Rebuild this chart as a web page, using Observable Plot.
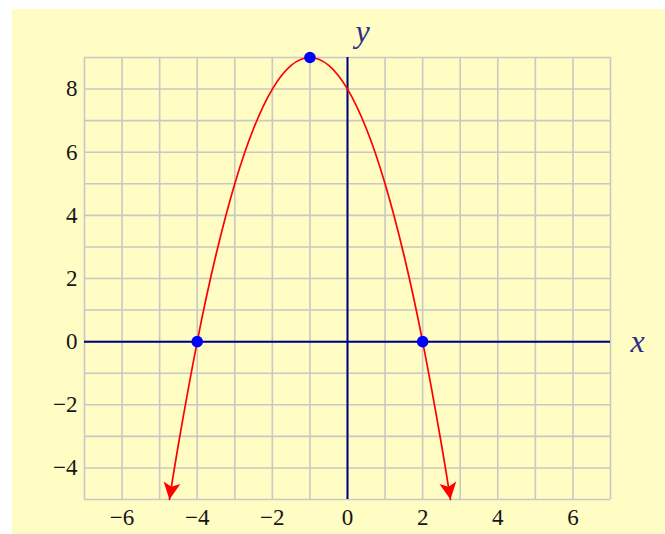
<!DOCTYPE html>
<html>
<head>
<meta charset="utf-8">
<script src="https://cdn.jsdelivr.net/npm/d3@7"></script>
<script src="https://cdn.jsdelivr.net/npm/@observablehq/plot@0.6"></script>
<style>
  html, body { margin: 0; padding: 0; background: #ffffff; }
  #chart { position: absolute; left: 12px; top: 9px; }
</style>
</head>
<body>
<div id="chart"></div>
<script>
// Points along the parabola, from the left arrow tip to the right arrow tip
const curveX = [-4.74, -4.5, -4, -3.5, -3, -2.5, -2, -1.5, -1, -0.5, 0, 0.5, 1, 1.5, 2, 2.5, 2.74];
const curveY = [-5, -3.25, 0, 2.75, 5, 6.75, 8, 8.75, 9, 8.75, 8, 6.75, 5, 2.75, 0, -3.25, -5];

// Vertex and x-intercepts
const pointX = [-1, -4, 2];
const pointY = [9, 0, 0];

// Tick labels and grid lines
const xTicks = [-6, -4, -2, 0, 2, 4, 6];
const yTicks = [-4, -2, 0, 2, 4, 6, 8];
const gridX = [-7, -6, -5, -4, -3, -2, -1, 0, 1, 2, 3, 4, 5, 6, 7];
const gridY = [-5, -4, -3, -2, -1, 0, 1, 2, 3, 4, 5, 6, 7, 8, 9];

const curve = curveX.map((x, i) => ({x, y: curveY[i]}));
const points = pointX.map((x, i) => ({x, y: pointY[i]}));

// Filled, slightly notched arrowhead for both ends of the curve
function arrowHead(color, context) {
  const doc = (context && context.document) || document;
  const ns = "http://www.w3.org/2000/svg";
  const marker = doc.createElementNS(ns, "marker");
  marker.setAttribute("viewBox", "-20 -10 21 20");
  marker.setAttribute("markerWidth", "21");
  marker.setAttribute("markerHeight", "20");
  marker.setAttribute("markerUnits", "userSpaceOnUse");
  marker.setAttribute("refX", "0");
  marker.setAttribute("refY", "0");
  marker.setAttribute("orient", "auto-start-reverse");
  const path = doc.createElementNS(ns, "path");
  path.setAttribute("d", "M0,0L-17,-8.5L-13,0L-17,8.5Z");
  path.setAttribute("fill", color);
  path.setAttribute("stroke", "none");
  marker.appendChild(path);
  return marker;
}

const serif = "Liberation Serif";
const gridColor = "#c8c8c4";
const axisColor = "#000080";
const titleColor = "#2e2e86";
const labelColor = "#161616";

const chart = Plot.plot({
  width: 653,
  height: 525,
  marginLeft: 72,
  marginRight: 55,
  marginTop: 48,
  marginBottom: 35,
  style: {background: "#fffcc4", overflow: "visible"},
  x: {domain: [-7, 7]},
  y: {domain: [-5, 9]},
  marks: [
    Plot.ruleX(gridX, {stroke: gridColor, strokeWidth: 1.6}),
    Plot.ruleY(gridY, {stroke: gridColor, strokeWidth: 1.6}),
    Plot.ruleY([0], {stroke: axisColor, strokeWidth: 2}),
    Plot.ruleX([0], {stroke: axisColor, strokeWidth: 2}),
    Plot.axisX(xTicks, {
      tickSize: 0, tickPadding: 9, label: null,
      fontSize: 23, fontFamily: serif, fill: labelColor,
      stroke: labelColor, strokeWidth: 0.4
    }),
    Plot.axisY(yTicks, {
      tickSize: 0, tickPadding: 7, label: null,
      fontSize: 23, fontFamily: serif, fill: labelColor,
      stroke: labelColor, strokeWidth: 0.4
    }),
    Plot.line(curve, {
      x: "x", y: "y",
      stroke: "#ff0000", strokeWidth: 1.7,
      curve: "natural",
      markerStart: arrowHead, markerEnd: arrowHead
    }),
    Plot.dot(points, {x: "x", y: "y", r: 5.8, fill: "#0000ff"}),
    Plot.text(["y"], {
      x: [0], y: [9], text: d => d,
      dx: 15, dy: -26,
      fontSize: 32, fontStyle: "italic", fontFamily: serif, fill: titleColor
    }),
    Plot.text(["x"], {
      x: [7], y: [0], text: d => d,
      dx: 27, dy: 0,
      fontSize: 32, fontStyle: "italic", fontFamily: serif, fill: titleColor
    })
  ]
});

document.getElementById("chart").appendChild(chart);
</script>
</body>
</html>
